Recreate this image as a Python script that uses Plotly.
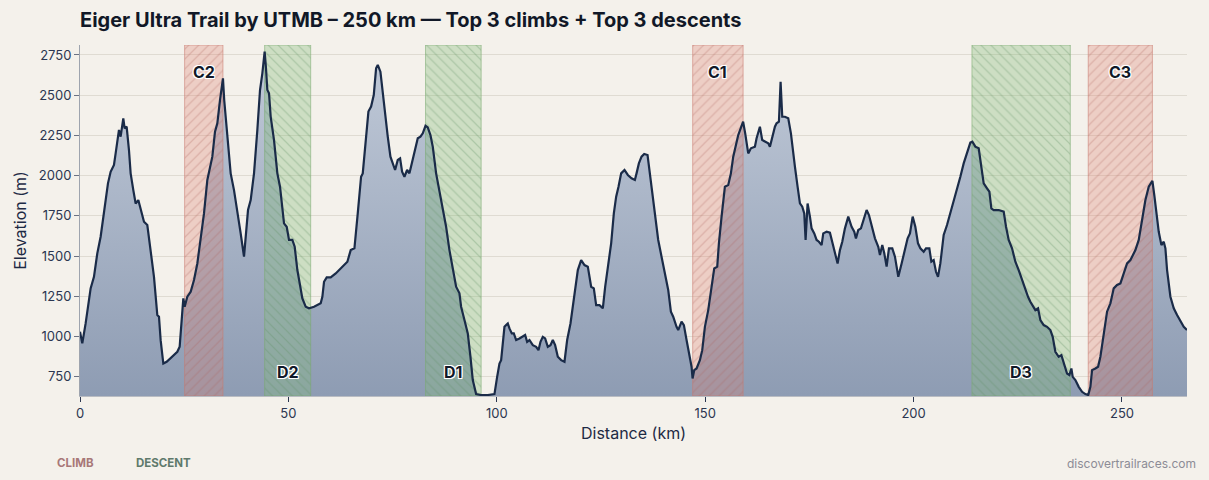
import plotly.graph_objects as go

# ---- Data ----
distance_km = [
    0, 0.55, 1.35, 2.55, 3.35, 4.15, 4.95, 5.75, 6.71, 7.35, 8.15, 8.55, 9.35, 9.75, 9.99, 10.39,
    10.71, 11.19, 11.75, 12.15, 12.79, 13.35, 13.99, 14.55, 15.35, 16.15, 16.95, 17.75, 18.55,
    18.95, 19.35, 19.99, 20.79, 21.75, 22.55, 23.35, 23.91, 24.31, 24.79, 25.11, 25.75, 26.55,
    27.35, 28.15, 28.95, 29.75, 30.55, 31.19, 31.75, 32.39, 32.95, 33.59, 34.3, 34.6, 35.35,
    36.15, 36.95, 37.75, 38.55, 39.35, 39.75, 40.31, 40.95, 41.75, 42.55, 43.19, 43.75, 44.3,
    44.6, 44.95, 45.35, 45.75, 46.55, 47.35, 47.99, 48.55, 48.95, 49.59, 50.15, 50.95, 51.51,
    52.15, 52.79, 53.35, 54.15, 54.95, 56.15, 56.95, 57.75, 58.15, 58.55, 59.19, 60.15, 61.35,
    62.55, 63.35, 64.15, 64.95, 65.84, 66.64, 67.44, 67.84, 68.4, 69.2, 69.84, 70.48, 71.04,
    71.44, 72.08, 72.64, 73.2, 73.84, 74.48, 75.04, 75.6, 76.24, 76.8, 77.28, 77.84, 78.48,
    79.04, 79.6, 80.4, 81.04, 81.68, 82.24, 82.9, 83.44, 84.08, 84.64, 85.44, 86.24, 87.04,
    87.84, 88.64, 89.44, 90.24, 91.04, 91.44, 92.24, 93.04, 93.68, 94.24, 95.04, 96.24, 97.84,
    99.44, 100.08, 100.64, 101.04, 101.44, 101.84, 102.24, 102.64, 103.04, 103.6, 104.08,
    104.64, 105.44, 106.24, 106.8, 107.28, 107.84, 108.64, 109.44, 110.0, 110.48, 111.04,
    111.6, 112.24, 112.88, 113.44, 114.0, 114.64, 115.44, 116.24, 116.88, 117.68, 118.48,
    119.04, 119.44, 120.24, 121.04, 121.84, 122.64, 123.28, 123.84, 124.64, 125.44, 126.0,
    126.64, 127.44, 128.08, 128.64, 129.2, 129.84, 130.64, 131.44, 132.33, 133.13, 133.53,
    134.09, 134.73, 135.37, 136.17, 136.73, 137.29, 137.93, 138.73, 139.53, 140.33, 141.13,
    141.77, 142.33, 143.13, 143.53, 144.33, 144.89, 145.53, 146.09, 146.73, 146.97, 147.37,
    147.93, 148.73, 149.29, 149.93, 150.73, 151.53, 152.17, 152.89, 153.29, 153.93, 154.73,
    155.53, 156.17, 156.73, 157.53, 157.93, 158.6, 159.1, 159.6, 160.33, 160.97, 161.93, 162.33,
    163.13, 163.69, 164.33, 165.13, 165.53, 166.09, 166.73, 167.13, 167.69, 168.09, 168.49,
    169.13, 169.93, 170.57, 171.13, 171.53, 172.17, 172.73, 173.29, 173.77, 174.09, 174.57,
    175.13, 175.53, 176.17, 176.73, 177.29, 177.93, 178.33, 179.13, 179.93, 180.73, 181.29,
    181.77, 182.33, 182.89, 183.53, 184.33, 185.13, 185.77, 186.17, 186.73, 187.37, 187.93,
    188.73, 189.29, 189.93, 190.73, 191.53, 191.93, 192.49, 192.97, 193.53, 194.09, 194.89,
    195.53, 195.93, 196.33, 197.13, 197.93, 198.57, 199.13, 199.78, 200.42, 201.06, 201.62,
    202.42, 202.98, 203.78, 204.26, 204.82, 205.38, 205.86, 206.42, 207.22, 208.02, 208.82,
    209.62, 210.42, 211.22, 212.02, 212.82, 213.62, 214.1, 214.82, 215.62, 216.26, 216.82,
    217.62, 218.18, 218.66, 219.22, 220.42, 221.62, 222.18, 222.82, 223.62, 224.42, 225.22,
    226.02, 226.82, 227.46, 228.02, 228.58, 229.22, 229.86, 230.42, 231.22, 232.02, 232.82,
    233.38, 234.02, 234.82, 235.46, 236.02, 236.82, 237.38, 237.86, 238.18, 238.82, 239.62,
    240.42, 241.22, 241.9, 242.42, 242.82, 243.62, 244.26, 244.82, 245.62, 246.42, 247.22,
    248.02, 248.82, 249.62, 250.42, 251.22, 252.02, 253.22, 254.02, 254.82, 255.62, 256.42,
    257.3, 257.8, 258.3, 258.82, 259.46, 260.02, 260.42, 260.82, 261.62, 262.42, 263.22,
    264.02, 264.82, 265.6,
]
elevation_m = [
    1030, 957, 1081, 1299, 1371, 1517, 1620, 1765, 1952, 2024, 2066, 2138, 2284, 2242, 2294, 2356,
    2294, 2304, 2159, 2014, 1910, 1827, 1848, 1786, 1713, 1693, 1537, 1371, 1133,
    1123, 977, 832, 843, 864, 884, 905, 936, 1081, 1237, 1185, 1247, 1278,
    1351, 1454, 1600, 1765, 1973, 2056, 2118, 2273, 2325, 2470, 2605, 2470, 2221,
    2014, 1910, 1786, 1641, 1496, 1620, 1786, 1848, 2014, 2284, 2532, 2636, 2771,
    2677, 2532, 2512, 2367, 2221, 2014, 1931, 1786, 1703, 1682, 1600, 1600, 1558,
    1413, 1309, 1237, 1185, 1175, 1185, 1195, 1206, 1247, 1340, 1367, 1367, 1392,
    1423, 1442, 1465, 1537, 1548, 1765, 1993, 2014, 2180, 2398, 2429, 2501, 2667,
    2688, 2646, 2512, 2398, 2242, 2118, 2076, 2035, 2097, 2107, 2024, 1993, 2035,
    2014, 2076, 2159, 2232, 2242, 2263, 2310, 2300, 2252, 2180, 2014, 1910, 1807,
    1682, 1537, 1434, 1309, 1268, 1185, 1102, 1019, 874, 729, 642, 636, 636,
    642, 749, 832, 853, 978, 1060, 1071, 1081, 1050, 1019, 1019,
    978, 988, 998, 1009, 967, 978, 946, 936, 915, 967, 998,
    988, 936, 946, 978, 946, 874, 853, 843, 978, 1081, 1227,
    1351, 1413, 1475, 1444, 1434, 1309, 1299, 1195, 1195, 1175, 1309,
    1434, 1579, 1765, 1869, 1931, 2014, 2035, 2004, 1983, 1973, 2014,
    2076, 2118, 2134, 2128, 2014, 1890, 1765, 1600, 1496, 1392, 1289,
    1154, 1123, 1060, 1040, 1092, 1071, 978, 894, 812, 739, 791,
    801, 853, 915, 1060, 1164, 1309, 1423, 1434, 1579, 1745, 1931,
    1941, 2014, 2118, 2221, 2252, 2300, 2335, 2263, 2138, 2170, 2180, 2232,
    2304, 2221, 2211, 2201, 2180, 2242, 2304, 2325, 2335, 2584, 2366,
    2366, 2356, 2263, 2159, 2056, 1931, 1827, 1807, 1765, 1600, 1827,
    1745, 1672, 1641, 1600, 1589, 1568, 1641, 1651, 1645, 1568, 1506,
    1454, 1537, 1589, 1672, 1745, 1682, 1651, 1610, 1662, 1672, 1724,
    1786, 1755, 1682, 1610, 1558, 1506, 1568, 1517, 1434, 1548, 1548,
    1496, 1434, 1371, 1454, 1537, 1610, 1641, 1745, 1682, 1579, 1548,
    1527, 1548, 1548, 1465, 1475, 1402, 1371, 1454, 1631, 1693, 1765,
    1848, 1921, 1993, 2076, 2149, 2205, 2211, 2180, 2170, 2056, 1952,
    1921, 1900, 1796, 1786, 1786, 1776, 1682, 1600, 1548, 1465, 1413,
    1351, 1299, 1247, 1216, 1195, 1164, 1175, 1102, 1071, 1060, 1040,
    998, 905, 874, 884, 832, 770, 760, 801, 749, 729, 687,
    656, 642, 636, 687, 791, 801, 812, 874, 1019, 1154, 1206,
    1299, 1320, 1330, 1392, 1454, 1475, 1537, 1600, 1724, 1848, 1931,
    1968, 1869, 1765, 1651, 1568, 1589, 1548, 1413, 1247, 1175, 1133,
    1092, 1060, 1040,
]

segment_labels = ["C2", "D2", "D1", "C1", "D3", "C3"]
segment_kinds = ["climb", "descent", "descent", "climb", "descent", "climb"]
segment_start_km = [25.1, 44.3, 82.9, 147.0, 214.0, 241.9]
segment_end_km = [34.3, 55.35, 96.25, 159.1, 237.6, 257.3]

y_ticks = [750, 1000, 1250, 1500, 1750, 2000, 2250, 2500, 2750]
x_ticks = [0, 50, 100, 150, 200, 250]

Y_MIN, Y_MAX = 630, 2812
X_MAX = 265.6

BG = "#f4f1eb"
LINE = "#1a2b48"
TEXT = "#1e2a44"
FONT = "Inter, 'Open Sans', sans-serif"

fig = go.Figure()

# area under the profile
fig.add_trace(go.Scatter(
    x=distance_km, y=elevation_m, mode="lines", line=dict(width=0, color=LINE),
    fill="tozeroy",
    fillgradient=dict(type="vertical", colorscale=[[0, "#8e9cb3"], [1, "#c1cad8"]],
                      start=Y_MIN, stop=2800),
    hoverinfo="skip", showlegend=False,
))

# highlighted segments
styles = {
    "climb": dict(fill="rgba(222,128,110,0.30)", fg="rgba(170,95,90,0.55)",
                  border="rgba(200,120,110,0.55)", shape="/"),
    "descent": dict(fill="rgba(130,185,120,0.35)", fg="rgba(90,140,95,0.55)",
                    border="rgba(120,170,110,0.55)", shape="\\"),
}
for lab, kind, x0, x1 in zip(segment_labels, segment_kinds, segment_start_km, segment_end_km):
    st = styles[kind]
    fig.add_trace(go.Scatter(
        x=[x0, x1, x1, x0, x0], y=[Y_MIN, Y_MIN, Y_MAX, Y_MAX, Y_MIN],
        mode="lines", line=dict(width=1, color=st["border"]),
        fill="toself", fillcolor=st["fill"],
        fillpattern=dict(shape=st["shape"], fgcolor=st["fg"], bgcolor=st["fill"],
                         size=7, solidity=0.18),
        hoverinfo="skip", showlegend=False,
    ))
    ylab = 2645 if kind == "climb" else 778
    fig.add_annotation(
        x=(x0 + x1) / 2, y=ylab, text=f"<b>{lab}</b>", showarrow=False,
        font=dict(family=FONT, size=16, color="#111827",
                  shadow="1px 1px 0 #fff, -1px -1px 0 #fff, 1px -1px 0 #fff, -1px 1px 0 #fff, 0 0 2px #fff"),
    )

# profile line
fig.add_trace(go.Scatter(
    x=distance_km, y=elevation_m, mode="lines",
    line=dict(width=2.2, color=LINE), showlegend=False,
))

# footer
fig.add_annotation(xref="paper", yref="paper", x=-0.0226, y=-0.191, xanchor="left",
                   yanchor="middle", text="<b>CLIMB</b>", showarrow=False,
                   font=dict(family=FONT, size=11.5, color="#a87878"))
fig.add_annotation(xref="paper", yref="paper", x=0.0488, y=-0.191, xanchor="left",
                   yanchor="middle", text="<b>DESCENT</b>", showarrow=False,
                   font=dict(family=FONT, size=11.5, color="#5f7a6c"))
fig.add_annotation(xref="paper", yref="paper", x=1.0099, y=-0.191, xanchor="right",
                   yanchor="middle", text="discovertrailraces.com", showarrow=False,
                   font=dict(family=FONT, size=12, color="#8c8c96"))

fig.update_layout(
    width=1209, height=480,
    margin=dict(l=80, r=22, t=45, b=84),
    paper_bgcolor=BG, plot_bgcolor=BG,
    font=dict(family=FONT, color=TEXT, size=13),
    title=dict(text="<b>Eiger Ultra Trail by UTMB – 250 km — Top 3 climbs + Top 3 descents</b>",
               x=80 / 1209, xanchor="left", y=1 - 20 / 480, yanchor="middle",
               font=dict(family=FONT, size=20, color="#111827", weight=800)),
    xaxis=dict(range=[0, X_MAX], tickvals=x_ticks, showgrid=False, zeroline=False,
               showline=True, linecolor="#b9bcc2", ticks="outside", ticklen=5,
               tickcolor="#2b3650", title=dict(text="Distance (km)", font=dict(size=16), standoff=8),
               tickfont=dict(size=13, color="#2b3650")),
    yaxis=dict(range=[Y_MIN, Y_MAX], tickvals=y_ticks, showgrid=True, gridcolor="#dfdbd2",
               zeroline=False, showline=True, linecolor="#9ea4ae", ticks="outside", ticklen=5,
               tickcolor="#6b7384", title=dict(text="Elevation (m)", font=dict(size=16), standoff=8),
               tickfont=dict(size=13, color="#2b3650")),
)

fig.write_html("out.html")
